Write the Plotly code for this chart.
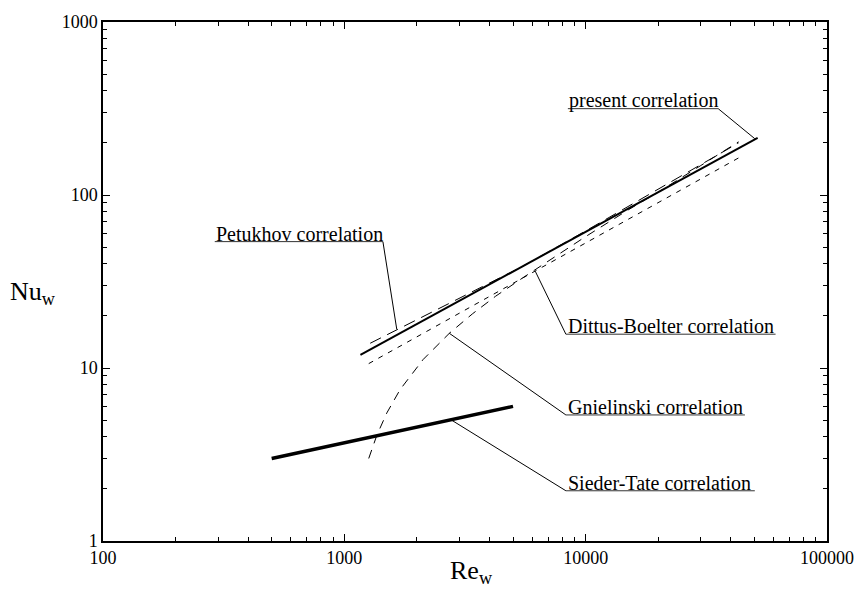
import plotly.graph_objects as go

# Wall Reynolds number vs. wall Nusselt number for several heat-transfer correlations
re_present = [1166, 51600]
nu_present = [11.9, 214]

re_petukhov = [1280, 3000, 5500, 10000, 43000]
nu_petukhov = [13.9, 25.2, 38.8, 62.0, 200]

re_dittus = [1262, 44100]
nu_dittus = [10.6, 167]

re_gnielinski = [1262, 1365, 1500, 1702, 2121, 2727, 3401, 4236, 5451, 7000,
                 10000, 15000, 20000, 30000, 43000]
nu_gnielinski = [3.0, 4.1, 5.5, 7.5, 11.2, 15.9, 20.6, 26.0, 33.0, 41.5,
                 57.5, 82.0, 104.0, 148.0, 203.0]

re_sieder = [500, 5000]
nu_sieder = [3.0, 6.0]

x_major = [100, 1000, 10000, 100000]
x_major_text = ["100", "1000", "10000", "100000"]
y_major = [1, 10, 100, 1000]
y_major_text = ["1", "10", "100", "1000"]
x_minor = [m * d for d in (100, 1000, 10000) for m in range(2, 10)]
y_minor = [m * d for d in (1, 10, 100) for m in range(2, 10)]

FONT = "Liberation Serif, Times New Roman, serif"

W, H = 866, 616
L, R, T, B = 103, 31, 14, 75
PW, PH = W - L - R, H - T - B


def px(xp):
    return (xp - L) / PW


def py(yp):
    return (H - B - yp) / PH


fig = go.Figure()

fig.add_trace(go.Scatter(x=re_petukhov, y=nu_petukhov, mode="lines",
                         line=dict(color="black", width=1, dash="12px,7px")))
fig.add_trace(go.Scatter(x=re_dittus, y=nu_dittus, mode="lines",
                         line=dict(color="black", width=1, dash="5px,6px")))
fig.add_trace(go.Scatter(x=re_gnielinski, y=nu_gnielinski, mode="lines",
                         line=dict(color="black", width=1, dash="9px,7px")))
fig.add_trace(go.Scatter(x=re_present, y=nu_present, mode="lines",
                         line=dict(color="black", width=2)))
fig.add_trace(go.Scatter(x=re_sieder, y=nu_sieder, mode="lines",
                         line=dict(color="black", width=3.5)))

# Labels: text, underline (x0, x1, y) and leader line (from underline end to curve)
labels = [
    ("present correlation", 573, (573, 725, 102), ((725, 102), (762, 132.5))),
    ("Petukhov correlation", 216, (216, 386, 237), ((386, 237), (400, 326))),
    ("Dittus-Boelter correlation", 572, (571, 783, 331), ((571, 331), (540, 267))),
    ("Gnielinski correlation", 572, (571, 752, 413), ((571, 413), (453, 330))),
    ("Sieder-Tate correlation", 572, (571, 762, 490), ((571, 490), (455, 418))),
]

shapes = []
annotations = []
for text, tx, (u0, u1, uy), ((l0x, l0y), (l1x, l1y)) in labels:
    annotations.append(dict(text=text, xref="paper", yref="paper",
                            x=px(tx), y=py(uy + 4), xanchor="left", yanchor="bottom",
                            showarrow=False, borderpad=0,
                            font=dict(family=FONT, size=20, color="black")))
    shapes.append(dict(type="line", xref="paper", yref="paper",
                       x0=px(u0), x1=px(u1), y0=py(uy), y1=py(uy),
                       line=dict(color="#333333", width=1)))
    shapes.append(dict(type="line", xref="paper", yref="paper",
                       x0=px(l0x), x1=px(l1x), y0=py(l0y), y1=py(l1y),
                       line=dict(color="black", width=1)))

# Axis titles
annotations.append(dict(text="Re<sub>w</sub>", xref="paper", yref="paper",
                        x=px(476), y=py(572), xanchor="center", yanchor="middle",
                        showarrow=False, font=dict(family=FONT, size=26, color="black")))
annotations.append(dict(text="Nu<sub>w</sub>", xref="paper", yref="paper",
                        x=px(32), y=py(289), xanchor="center", yanchor="middle",
                        showarrow=False, font=dict(family=FONT, size=26, color="black")))

axis_common = dict(
    type="log", showgrid=False, zeroline=False,
    showline=True, linecolor="black", linewidth=1.5, mirror="ticks",
    ticks="inside", ticklen=7, tickwidth=1, tickcolor="black",
    tickfont=dict(family=FONT, size=18, color="black"),
)

fig.update_layout(
    width=W, height=H,
    margin=dict(l=L, r=R, t=T, b=B),
    paper_bgcolor="white", plot_bgcolor="white",
    showlegend=False,
    xaxis=dict(range=[2, 5], tickvals=x_major, ticktext=x_major_text,
               minor=dict(tickvals=x_minor, ticks="inside", ticklen=4,
                          tickwidth=1, tickcolor="black", showgrid=False),
               **axis_common),
    yaxis=dict(range=[0, 3], tickvals=y_major, ticktext=y_major_text,
               minor=dict(tickvals=y_minor, ticks="inside", ticklen=4,
                          tickwidth=1, tickcolor="black", showgrid=False),
               **axis_common),
    shapes=shapes,
    annotations=annotations,
)

fig.write_html("out.html")
